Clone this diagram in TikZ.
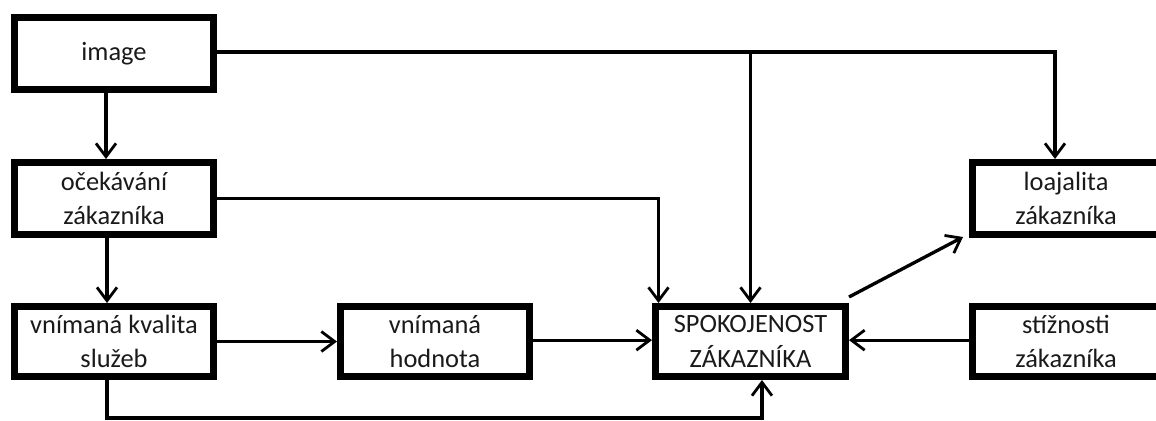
\documentclass[tikz,border=0pt]{standalone}
\usepackage{fontspec}
\setmainfont{Carlito}
\usetikzlibrary{arrows.meta}
\definecolor{txt}{HTML}{1A1A1A}
\tikzset{
  box/.style={draw=black, line width=5.25pt, fill=white, align=center, text=txt,
    font=\fontsize{19.8}{26}\selectfont, inner sep=0pt},
  conn/.style={draw=black, line width=2.5pt},
  arr/.style={conn, -{Straight Barb[length=10pt,width=15pt,line width=2.1pt]}}
}
\begin{document}
\begin{tikzpicture}[x=0.75pt,y=-0.75pt]
\useasboundingbox (0,0) rectangle (1156,421);
\clip (0,0) rectangle (1156,421);
\node[box, minimum width=149.25pt, minimum height=54pt] (image) at (114,53.5) {image};
\node[box, minimum width=149.25pt, minimum height=54pt] (ocek) at (114,198.5) {očekávání\\zákazníka};
\node[box, minimum width=149.25pt, minimum height=52.5pt] (kval) at (114,341.5) {vnímaná kvalita\\služeb};
\node[box, minimum width=141.75pt, minimum height=52.5pt] (hodn) at (435,341.5) {vnímaná\\hodnota};
\node[box, minimum width=142.5pt, minimum height=52.5pt] (spok) at (750.5,341.5) {SPOKOJENOST\\ZÁKAZNÍKA};
\node[box, minimum width=140.25pt, minimum height=54pt] (loaj) at (1066,198.5) {loajalita\\zákazníka};
\node[box, minimum width=140.25pt, minimum height=52.5pt] (stiz) at (1066,341.5) {stížnosti\\zákazníka};
\coordinate (low) at (0,418);
\coordinate (sb) at ([xshift=8.6pt]spok.south);
\coordinate (st1) at ([xshift=-69pt]spok.north);
\coordinate (lt) at ([xshift=-8.25pt]loaj.north);
% image to ocekavani
\draw[arr] ([xshift=-6pt]image.south) -- ([xshift=-6pt]ocek.north);
\draw[arr] ([xshift=-5.25pt]ocek.south) -- ([xshift=-5.25pt]kval.north);
% image to loajalita and spokojenost
\draw[arr] ([yshift=1.2pt]image.east) -| (lt);
\coordinate (j1) at (spok.north |- image.east);
\draw[arr] ([yshift=1.2pt]j1) -- (spok.north);
% ocekavani to spokojenost
\draw[arr] (ocek.east) -| (st1);
% row 3
\draw[arr] (kval.east) -- (hodn.west);
\draw[arr] ([yshift=1pt]hodn.east) -- ([yshift=1pt]spok.west);
\draw[arr] ([yshift=1pt]stiz.west) -- ([yshift=1pt]spok.east);
\draw[arr] ([xshift=-5.25pt]kval.south) |- (sb |- low) -- (sb);
% spokojenost to loajalita
\draw[arr] ([yshift=4.5pt]spok.north east) -- ([xshift=-4.5pt,yshift=0.75pt]loaj.south west);
\end{tikzpicture}
\end{document}
